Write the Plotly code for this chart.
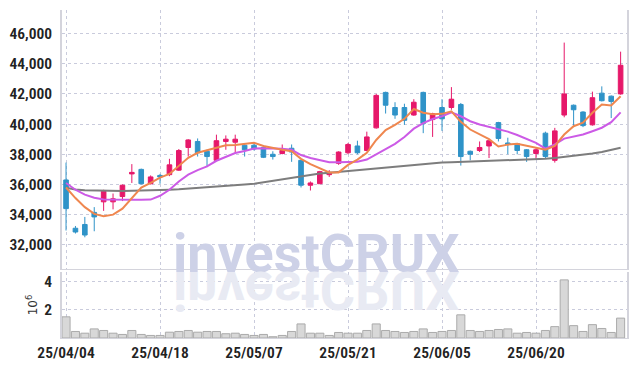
import plotly.graph_objects as go

dates = ["25/04/04", "25/04/07", "25/04/08", "25/04/09", "25/04/10", "25/04/11",
         "25/04/14", "25/04/15", "25/04/16", "25/04/17", "25/04/18",
         "25/04/21", "25/04/22", "25/04/23", "25/04/24", "25/04/25",
         "25/04/28", "25/04/29", "25/04/30", "25/05/02",
         "25/05/07", "25/05/08", "25/05/09", "25/05/12", "25/05/13", "25/05/14",
         "25/05/15", "25/05/16", "25/05/19", "25/05/20",
         "25/05/21", "25/05/22", "25/05/23", "25/05/26", "25/05/27", "25/05/28",
         "25/05/29", "25/05/30", "25/06/02", "25/06/04",
         "25/06/05", "25/06/09", "25/06/10", "25/06/11", "25/06/12", "25/06/13",
         "25/06/16", "25/06/17", "25/06/18", "25/06/19",
         "25/06/20", "25/06/23", "25/06/24", "25/06/25", "25/06/26", "25/06/27",
         "25/06/30", "25/07/01", "25/07/02", "25/07/03"]

open_ = [36300, 33100, 33350, 34150, 34850, 34850, 35200, 36700, 37000, 36050,
         36600, 36650, 36950, 38450, 38850, 38200, 37600, 38850, 38800, 38600,
         38600, 38450, 38000, 38050, 38400, 37600, 35950, 36050, 36650, 37400,
         38100, 38550, 38250, 39750, 42100, 41100, 41100, 40600, 42100, 40300,
         41100, 41100, 41300, 38200, 38250, 38550, 40100, 38750, 38700, 38300,
         38050, 39400, 37600, 40600, 41250, 40800, 39950, 42050, 41850, 42000]
high = [37450, 33250, 33850, 34500, 35650, 35400, 36000, 37350, 37050, 36600,
        36700, 37700, 38350, 39000, 39050, 38300, 39300, 39250, 39300, 38700,
        38800, 38600, 38200, 38650, 38650, 37650, 36200, 36900, 36950, 38200,
        38750, 38900, 39500, 42000, 42150, 41450, 41350, 41650, 42150, 40750,
        41650, 42450, 41400, 38250, 38850, 38900, 40150, 39100, 38750, 38350,
        38400, 39500, 39750, 45400, 41300, 40850, 42150, 42500, 41900, 44800]
low = [32950, 32750, 32500, 32900, 34250, 34350, 34900, 36100, 36000, 36000,
       36050, 36550, 36900, 37850, 37850, 37150, 37600, 38300, 38100, 37850,
       38250, 37750, 37650, 38000, 37500, 35800, 35600, 36050, 36500, 37300,
       38000, 38000, 38200, 39700, 40700, 40350, 39950, 40550, 39400, 39150,
       39550, 40950, 37250, 37600, 38150, 37750, 38850, 38000, 38000, 37500,
       37700, 37750, 37450, 40450, 39800, 39800, 39900, 41500, 40400, 41950]
close = [34400, 32850, 32650, 33850, 35550, 35050, 35950, 36800, 36050, 36500,
         36500, 37300, 38250, 38950, 38100, 37850, 38900, 39000, 39000, 38300,
         38350, 37800, 37850, 38250, 38150, 35950, 36100, 36850, 36800, 38150,
         38650, 38100, 39150, 41900, 41250, 40600, 40250, 41450, 40050, 40700,
         40350, 41650, 37850, 38000, 38450, 38900, 39050, 38650, 38250, 37850,
         38300, 37850, 39550, 42000, 40950, 39900, 41750, 41550, 41500, 43900]

ma_short = [35800, 35100, 34500, 34050, 33900, 34000, 34400, 35100, 35800, 36100,
            36450, 36700, 37210, 37770, 38100, 38250, 38450, 38600, 38620, 38690,
            38760, 38550, 38400, 38300, 38200, 37700, 37350, 37100, 36800, 36800,
            37300, 37650, 38100, 38950, 39600, 39950, 40350, 41000, 40750, 40650,
            40680, 40850, 40150, 39640, 39310, 39000, 38520, 38640, 38700, 38550,
            38400, 38300, 38550, 39310, 39860, 40090, 40750, 41300, 41230, 41850]
ma_mid = [36100, 35650, 35330, 35120, 35000, 34980, 34980, 34980, 34980, 35000,
          35250, 35650, 36200, 36650, 36950, 37200, 37570, 37850, 38080, 38220,
          38380, 38400, 38380, 38370, 38300, 37950, 37750, 37600, 37480, 37480,
          37480, 37500, 37650, 37990, 38320, 38690, 39150, 39700, 40060, 40340,
          40520, 40780, 40520, 40190, 39970, 39820, 39650, 39500, 39280, 39040,
          38760, 38380, 38650, 39040, 39200, 39310, 39530, 39760, 40130, 40780]
ma_long = [35780, 35670, 35620, 35600, 35580, 35570, 35570, 35580, 35590, 35600,
           35620, 35650, 35680, 35720, 35760, 35800, 35850, 35900, 35950, 36000,
           36050, 36150, 36250, 36350, 36450, 36550, 36650, 36720, 36780, 36840,
           36900, 36960, 37020, 37080, 37130, 37180, 37240, 37320, 37380, 37420,
           37460, 37480, 37500, 37520, 37540, 37560, 37580, 37600, 37620, 37640,
           37660, 37700, 37760, 37820, 37880, 37950, 38050, 38150, 38280, 38430]

volume = [1.49, 0.46, 0.34, 0.64, 0.53, 0.34, 0.25, 0.53, 0.25, 0.18,
          0.18, 0.41, 0.46, 0.53, 0.41, 0.46, 0.46, 0.30, 0.34, 0.25,
          0.18, 0.25, 0.09, 0.18, 0.46, 0.99, 0.34, 0.34, 0.18, 0.39,
          0.34, 0.34, 0.53, 0.99, 0.53, 0.46, 0.39, 0.46, 0.64, 0.39,
          0.46, 0.53, 1.63, 0.53, 0.46, 0.53, 0.60, 0.64, 0.34, 0.39,
          0.34, 0.53, 0.80, 4.09, 0.87, 0.46, 0.94, 0.67, 0.39, 1.40]

tick_dates = ["25/04/04", "25/04/18", "25/05/07", "25/05/21", "25/06/05", "25/06/20"]
price_ticks = [32000, 34000, 36000, 38000, 40000, 42000, 44000, 46000]
volume_ticks = [2, 4]

INC = "#e6186a"
DEC = "#2f93c8"
GRID = "#c9cbdc"
AXLINE = "#d4d4dc"
TICKFONT = dict(family="Roboto Condensed, DejaVu Sans Condensed, Roboto, sans-serif",
                size=15.5, color="#222222", weight=600)

fig = go.Figure()
fig.add_trace(go.Candlestick(
    x=dates, open=open_, high=high, low=low, close=close,
    xaxis="x", yaxis="y", whiskerwidth=0, showlegend=False,
    increasing=dict(line=dict(color=INC, width=1), fillcolor=INC),
    decreasing=dict(line=dict(color=DEC, width=1), fillcolor=DEC),
))
fig.add_trace(go.Scatter(x=dates, y=ma_long, mode="lines", xaxis="x", yaxis="y",
                         line=dict(color="#7d7d7d", width=2), showlegend=False))
fig.add_trace(go.Scatter(x=dates, y=ma_mid, mode="lines", xaxis="x", yaxis="y",
                         line=dict(color="#cc5ae6", width=2), showlegend=False))
fig.add_trace(go.Scatter(x=dates, y=ma_short, mode="lines", xaxis="x", yaxis="y",
                         line=dict(color="#ef874f", width=2), showlegend=False))
fig.add_trace(go.Bar(x=dates, y=volume, xaxis="x2", yaxis="y2", showlegend=False,
                     marker=dict(color="#d8d8d8", line=dict(color="#ababab", width=1))))

xr = [-0.43, len(dates) - 1 + 0.68]
common_x = dict(type="category", categoryorder="array", categoryarray=dates,
                range=xr, tickvals=tick_dates, showgrid=True, gridcolor=GRID,
                griddash="dot", gridwidth=1, zeroline=False, ticks="",
                showline=True, linecolor=AXLINE, linewidth=1, automargin=False)

fig.update_layout(
    width=635, height=366,
    margin=dict(l=62, r=8, t=10, b=28),
    paper_bgcolor="white", plot_bgcolor="white",
    bargap=0.14,
    xaxis=dict(common_x, anchor="y", domain=[0, 1], showticklabels=False,
               rangeslider=dict(visible=False)),
    xaxis2=dict(common_x, anchor="y2", domain=[0, 1], matches="x",
                showticklabels=True, tickfont=TICKFONT),
    yaxis=dict(domain=[0.2104, 1], range=[30400, 47560], tickvals=price_ticks,
               tickformat=",", tickfont=TICKFONT, showgrid=True, gridcolor=GRID,
               griddash="dot", zeroline=False, ticks="", showline=True,
               mirror=True, linecolor=AXLINE, linewidth=1.5, ticklabelstandoff=5,
               automargin=False),
    yaxis2=dict(domain=[0, 0.201], range=[0, 4.64], tickvals=volume_ticks,
                tickfont=TICKFONT, showgrid=True, gridcolor=GRID, griddash="dot",
                zeroline=False, ticks="", showline=True, mirror=True,
                linecolor=AXLINE, linewidth=1.5, ticklabelstandoff=5,
                automargin=False,
                title=dict(text="10<sup>6</sup>", standoff=4,
                           font=dict(family="DejaVu Sans, sans-serif", size=12, color="#333"))),
    annotations=[
        dict(text="<b>investCRUX</b>", xref="paper", yref="paper", x=0.451, y=0.258,
             xanchor="center", yanchor="middle", showarrow=False,
             font=dict(family="Roboto, sans-serif", size=54, color="#cdd1e7")),
        dict(text="<b>investCRUX</b>", xref="paper", yref="paper", x=0.451, y=0.258,
             xanchor="center", yanchor="middle", showarrow=False,
             font=dict(family="Roboto, sans-serif", size=54, color="#e8eaf3")),
    ],
)

post = """
try {
  document.body.style.margin = '0';
  document.body.style.padding = '0';
  var gd = document.getElementById('{plot_id}');
  var a = gd.querySelector('g.annotation[data-index="1"]');
  var m = gd.querySelector('g.annotation[data-index="0"] text');
  if (a && m) {
    var r = m.getBoundingClientRect();
    var sr = a.ownerSVGElement.getBoundingClientRect();
    var base = r.top - sr.top + r.height * 0.79;
    a.setAttribute('transform', 'translate(0,' + (2 * base) + ') scale(1,-1)');
  }
} catch (e) {}
"""

fig.write_html("out.html", config=dict(displayModeBar=False), post_script=post)
